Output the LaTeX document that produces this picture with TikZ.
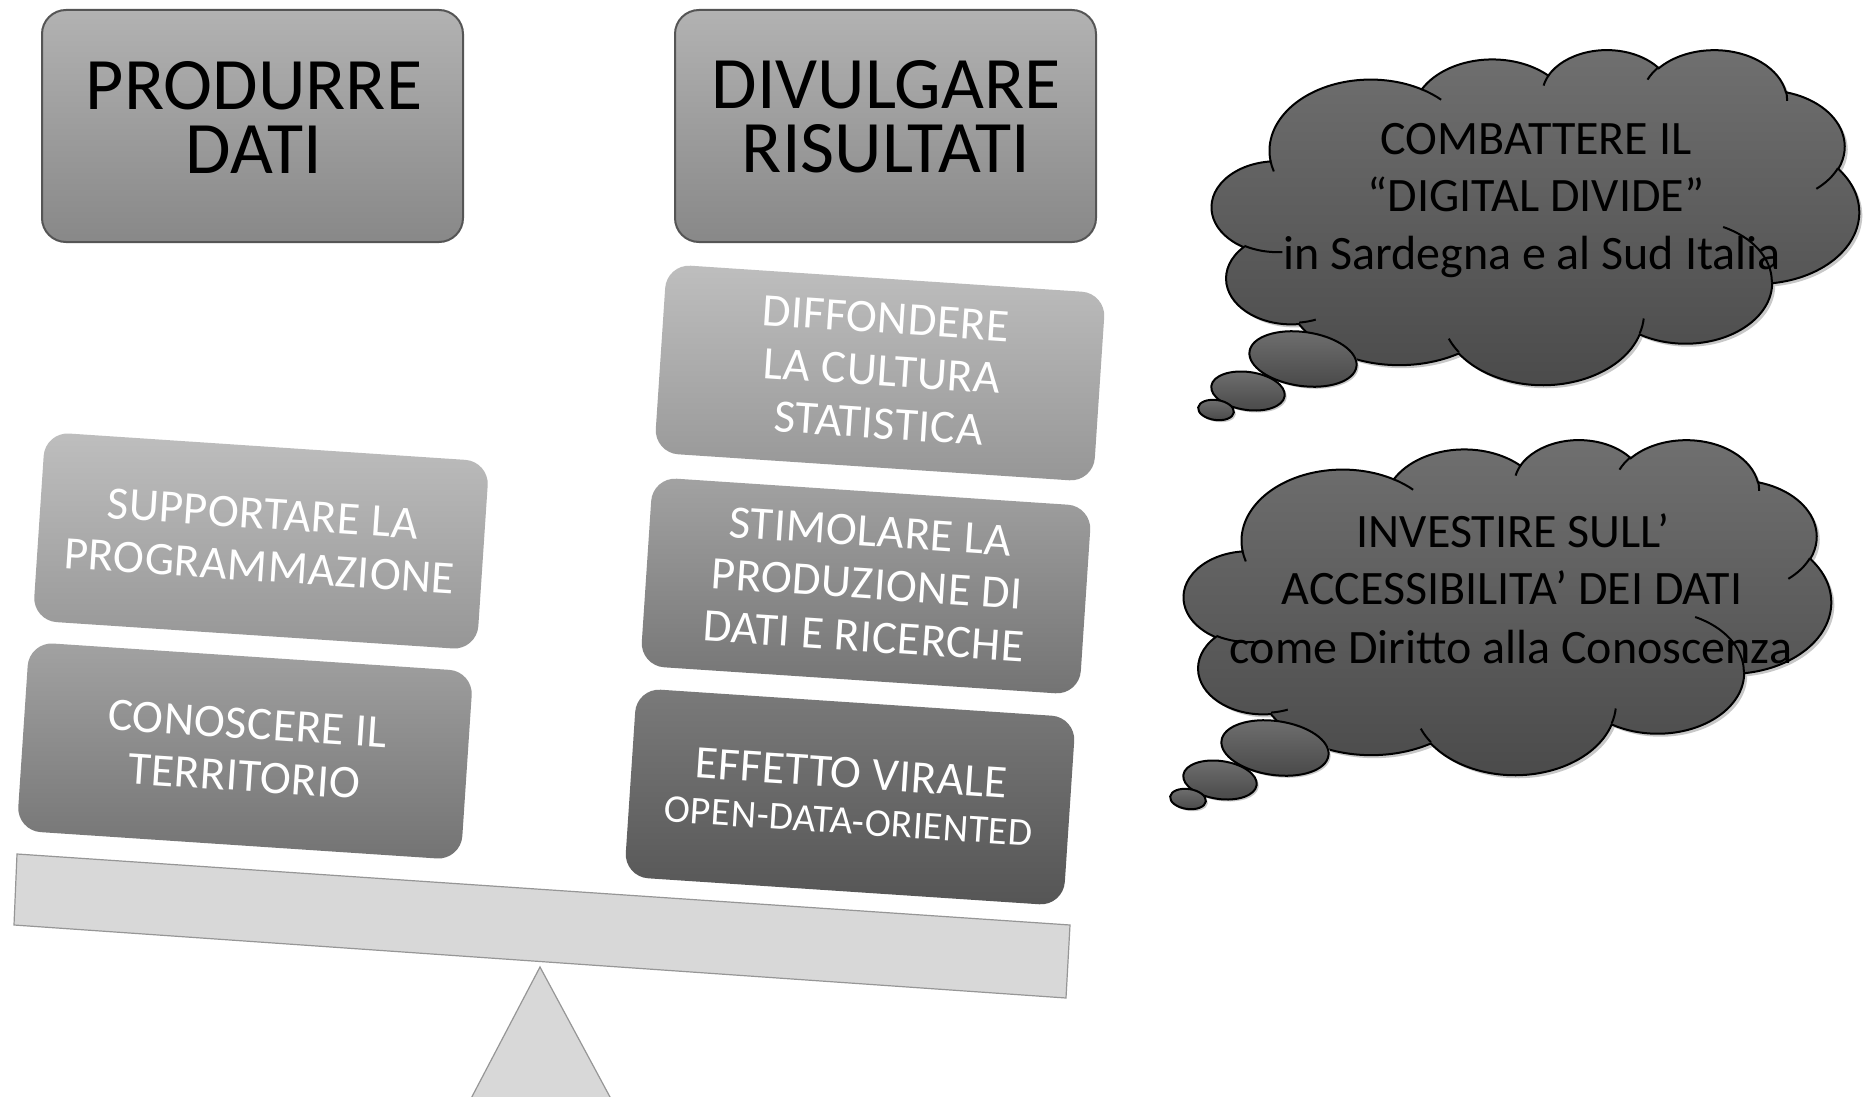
\documentclass[tikz,border=0pt]{standalone}
\usepackage{fontspec}
\setmainfont{Carlito}
\newfontfamily\spaced[LetterSpace=1]{Carlito}
\usetikzlibrary{shapes.geometric}
\definecolor{hdtop}{RGB}{178,178,178}
\definecolor{hdbot}{RGB}{136,136,136}
\definecolor{hdline}{RGB}{85,85,85}
\definecolor{lttop}{RGB}{190,190,190}
\definecolor{ltbot}{RGB}{150,150,150}
\definecolor{mdtop}{RGB}{162,162,162}
\definecolor{mdbot}{RGB}{115,115,115}
\definecolor{dktop}{RGB}{122,122,122}
\definecolor{dkbot}{RGB}{85,85,85}
\definecolor{cltop}{RGB}{112,112,112}
\definecolor{clbot}{RGB}{74,74,74}
\definecolor{beamfill}{RGB}{216,216,216}
\definecolor{beamline}{RGB}{150,150,150}
\definecolor{shadowc}{RGB}{200,200,200}

\newcommand\mkang[6]{%
  \pgfmathsetmacro#1{atan2((#3)*sin(#5),(#4)*cos(#5))}%
  \pgfmathsetmacro\mkangtmp{atan2((#3)*sin((#5)+(#6)),(#4)*cos((#5)+(#6)))}%
  \pgfmathsetmacro#2{#1+mod(\mkangtmp-#1+720,360)}%
}
\newcommand\setcloudangles[1]{%
  #1\qas\qae{67.53}{91.90}{-190.4875}{123.7805}%
  #1\qbs\qbe{53.33}{72.67}{-144.1024}{89.9452}%
  #1\qcs\qce{43.65}{59.45}{-145.8079}{99.7230}%
  #1\qds\qde{48.57}{65.95}{-130.9861}{117.2417}%
  #1\qes\qee{53.33}{72.73}{-78.7089}{109.0269}%
  #1\qfs\qfe{67.75}{92.20}{-46.2673}{130.2690}%
  #1\qgs\qge{57.85}{78.67}{0.6250}{114.0333}%
  #1\qhs\qhe{67.52}{92.15}{22.4516}{115.1726}%
  #1\qis\qie{77.20}{105.43}{66.2426}{75.7110}%
  #1\qjs\qje{43.60}{59.18}{-274.9421}{146.7356}%
  #1\qks\qke{43.45}{59.45}{-246.8285}{152.5189}%
  #1\ras\rae{43.45}{59.45}{86.7420}{26.4295}%
  #1\rbs\rbe{43.60}{59.18}{73.6105}{11.4475}%
  #1\rcs\rce{67.52}{92.15}{137.6242}{14.0811}%
  #1\rds\rde{67.52}{92.15}{6.4533}{15.9984}%
  #1\res\ree{57.85}{78.67}{-70.2924}{70.9174}%
  #1\rfs\rfe{53.33}{72.73}{30.3180}{27.7515}%
  #1\rgs\rge{48.57}{65.95}{-13.7443}{14.8589}%
  #1\rhs\rhe{48.57}{65.95}{-149.1815}{18.1954}%
  #1\ris\rie{43.65}{59.45}{-163.4943}{17.6864}%
  #1\rjs\rje{67.53}{91.90}{-66.7070}{12.3194}%
  #1\rks\rke{67.53}{91.90}{157.6544}{11.8582}%
}
\newcommand\cloudshape[1]{%
 \path[#1] (39,143.7)
  arc[x radius=67.53,y radius=91.90,start angle=\qas,end angle=\qae]
  arc[x radius=53.33,y radius=72.67,start angle=\qbs,end angle=\qbe]
  arc[x radius=43.65,y radius=59.45,start angle=\qcs,end angle=\qce]
  arc[x radius=48.57,y radius=65.95,start angle=\qds,end angle=\qde]
  arc[x radius=53.33,y radius=72.73,start angle=\qes,end angle=\qee]
  arc[x radius=67.75,y radius=92.20,start angle=\qfs,end angle=\qfe]
  arc[x radius=57.85,y radius=78.67,start angle=\qgs,end angle=\qge]
  arc[x radius=67.52,y radius=92.15,start angle=\qhs,end angle=\qhe]
  arc[x radius=77.20,y radius=105.43,start angle=\qis,end angle=\qie]
  arc[x radius=43.60,y radius=59.18,start angle=\qjs,end angle=\qje]
  arc[x radius=43.45,y radius=59.45,start angle=\qks,end angle=\qke]
  -- cycle;}
\newcommand\cloudfolds[1]{%
 \path[#1] (46.93,261.77) arc[x radius=43.45,y radius=59.45,start angle=\ras,end angle=\rae]
 (69.28,348.99) arc[x radius=43.60,y radius=59.18,start angle=\rbs,end angle=\rbe]
 (164.78,390.90) arc[x radius=67.52,y radius=92.15,start angle=\rcs,end angle=\rce]
 (288.27,347.51) arc[x radius=67.52,y radius=92.15,start angle=\rds,end angle=\rde]
 (341.29,229.54) arc[x radius=57.85,y radius=78.67,start angle=\res,end angle=\ree]
 (417.98,153.54) arc[x radius=53.33,y radius=72.73,start angle=\rfs,end angle=\rfe]
 (383.24,54.26) arc[x radius=48.57,y radius=65.95,start angle=\rgs,end angle=\rge]
 (290.78,39.52) arc[x radius=48.57,y radius=65.95,start angle=\rhs,end angle=\rhe]
 (221.41,47.20) arc[x radius=43.65,y radius=59.45,start angle=\ris,end angle=\rie]
 (140.00,51.92) arc[x radius=67.53,y radius=91.90,start angle=\rjs,end angle=\rje]
 (41.27,157.89) arc[x radius=67.53,y radius=91.90,start angle=\rks,end angle=\rke];}
\newcommand\fullcloud[2]{%
 \begin{scope}[shift={(#1+3,#2+3)},xscale=1.4977,yscale=0.7755]
  \cloudshape{fill=shadowc}
 \end{scope}
 \begin{scope}[shift={(#1,#2)},xscale=1.4977,yscale=0.7755]
  \cloudshape{draw=black,line width=1pt,top color=cltop,bottom color=clbot}
  \cloudfolds{draw=black,line width=1pt}
 \end{scope}}

\tikzset{
  headbox/.style={draw=hdline,line width=1pt,rounded corners=12pt,top color=hdtop,bottom color=hdbot,minimum width=210.5pt,minimum height=116pt,inner sep=0pt},
  headtxt/.style={font=\fontsize{37}{32}\selectfont,align=center,text=black,inner sep=0pt},
  tiltbox/.style={rotate=-3.8,rounded corners=12pt,minimum height=94.5pt,inner sep=0pt},
  lefttilt/.style={tiltbox,minimum width=222.5pt},
  righttilt/.style={tiltbox,minimum width=220pt},
  lightfill/.style={top color=lttop,bottom color=ltbot},
  midfill/.style={top color=mdtop,bottom color=mdbot},
  darkfill/.style={top color=dktop,bottom color=dkbot},
  tilttxt/.style={rotate=-3.8,text=white,align=center,inner sep=0pt,font=\spaced\fontsize{23.3}{26.3}\selectfont},
  bubble/.style={ellipse,draw=black,line width=1pt,top color=cltop,bottom color=clbot,inner sep=0pt,rotate=-8},
  bubshadow/.style={ellipse,fill=shadowc,inner sep=0pt,rotate=-8},
  cloudtxt/.style={font=\fontsize{24}{28.5}\selectfont,text=black,inner sep=0pt,anchor=base},
  beamstyle/.style={draw=beamline,fill=beamfill,line width=0.6pt}
}

\begin{document}
\begin{tikzpicture}[x=0.5pt,y=-0.5pt]
\useasboundingbox (0,0) rectangle (1870,1097);
\fill[white] (0,0) rectangle (1870,1097);

% fulcrum and beam
\begin{scope}
 \clip (0,0) rectangle (1870,1097);
 \draw[beamstyle] (540,967) -- (617,1110) -- (465,1110) -- cycle;
\end{scope}
\draw[beamstyle] (17,854) -- (1070,925) -- (1066,998) -- (14,925) -- cycle;

% header boxes
\node[headbox] (prod) at (252.5,126) {};
\node[headtxt] (prodt) at (254,117) {PRODURRE\\DATI};
\node[headbox] (divu) at (885.5,126) {};
\node[headtxt] (divut) at (886,117) {DIVULGARE\\RISULTATI};

% left stack
\node[lefttilt,lightfill] (supp) at (261,541) {};
\node[tilttxt] (suppt) at (261,540) {SUPPORTARE LA\\PROGRAMMAZIONE};
\node[lefttilt,midfill] (cono) at (245,751) {};
\node[tilttxt] (conot) at (246,750) {CONOSCERE IL\\TERRITORIO};

% right stack
\node[righttilt,lightfill] (diff) at (880,373) {};
\node[tilttxt] (difft) at (882,371) {DIFFONDERE\\LA CULTURA\\STATISTICA};
\node[righttilt,midfill] (stim) at (866,586) {};
\node[tilttxt] (stimt) at (867,584) {STIMOLARE LA\\PRODUZIONE DI\\DATI E RICERCHE};
\node[righttilt,darkfill] (effe) at (850,797) {};
\node[tilttxt,font=\spaced\fontsize{23.3}{23}\selectfont] (effet) at (850,796) {EFFETTO VIRALE\\{\fontsize{19.7}{23}\selectfont OPEN-DATA-ORIENTED}};

% clouds
\setcloudangles{\mkang}
\fullcloud{1212}{49}
\fullcloud{1184}{439}

% bubbles cloud 1
\node[bubshadow,minimum width=54pt,minimum height=27pt] (s1a) at (1305,361) {};
\node[bubshadow,minimum width=37pt,minimum height=19pt] (s1b) at (1250,393) {};
\node[bubshadow,minimum width=18pt,minimum height=10pt] (s1c) at (1218,412) {};
\node[bubble,minimum width=54pt,minimum height=27pt] (b1a) at (1303,359) {};
\node[bubble,minimum width=37pt,minimum height=19pt] (b1b) at (1248,391) {};
\node[bubble,minimum width=18pt,minimum height=10pt] (b1c) at (1216,410) {};
% bubbles cloud 2
\node[bubshadow,minimum width=54pt,minimum height=27pt] (s2a) at (1277,750) {};
\node[bubshadow,minimum width=37pt,minimum height=19pt] (s2b) at (1222,782) {};
\node[bubshadow,minimum width=18pt,minimum height=10pt] (s2c) at (1190,801) {};
\node[bubble,minimum width=54pt,minimum height=27pt] (b2a) at (1275,748) {};
\node[bubble,minimum width=37pt,minimum height=19pt] (b2b) at (1220,780) {};
\node[bubble,minimum width=18pt,minimum height=10pt] (b2c) at (1188,799) {};

% cloud texts
\node[cloudtxt] (c1a) at (1536,155) {COMBATTERE IL};
\node[cloudtxt] (c1b) at (1536,212) {“DIGITAL DIVIDE”};
\node[cloudtxt] (c1c) at (1532,269) {in Sardegna e al Sud Italia};
\node[cloudtxt] (c2a) at (1513,547) {INVESTIRE SULL’};
\node[cloudtxt] (c2b) at (1512,604) {ACCESSIBILITA’ DEI DATI};
\node[cloudtxt] (c2c) at (1511,663) {come Diritto alla Conoscenza};
\end{tikzpicture}
\end{document}
